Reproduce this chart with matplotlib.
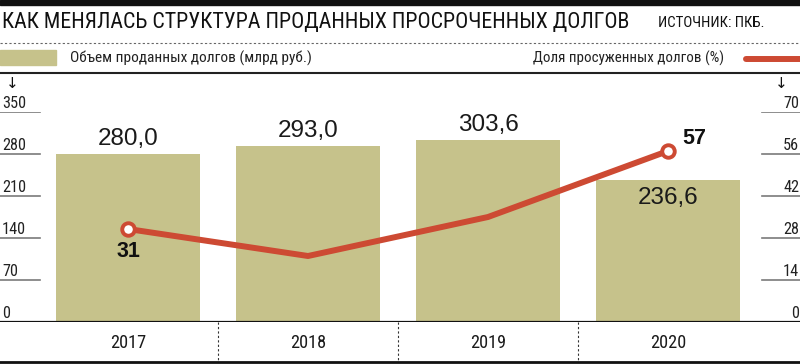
import matplotlib
matplotlib.use("Agg")
import matplotlib.pyplot as plt
import matplotlib.transforms as mtransforms
from matplotlib import font_manager
from matplotlib.ft2font import FT2Font

# Data
years = ["2017", "2018", "2019", "2020"]
sold_volume = [280.0, 293.0, 303.6, 236.6]      # млрд руб.
court_share = [31, 22, 35, 57]                  # %
left_ticks = [0, 70, 140, 210, 280, 350]
right_ticks = [0, 14, 28, 42, 56, 70]

title = "КАК МЕНЯЛАСЬ СТРУКТУРА ПРОДАННЫХ ПРОСРОЧЕННЫХ ДОЛГОВ"
source = "ИСТОЧНИК: ПКБ."
bar_label = "Объем проданных долгов (млрд руб.)"
line_label = "Доля просуженных долгов (%)"

OLIVE = "#c6c28b"
RED = "#cd4a33"
GRID = "#7a7a7a"


# pick a condensed face that has Cyrillic letters
def has_cyrillic(name):
    for f in font_manager.fontManager.ttflist:
        if f.name == name and f.style == "normal":
            try:
                return ord("Д") in FT2Font(f.fname).get_charmap()
            except Exception:
                return False
    return False


wanted = ["Roboto Condensed", "PT Sans Narrow", "Fira Sans Condensed",
          "Open Sans Condensed", "Noto Sans Condensed", "Liberation Sans"]
base_font = next((n for n in wanted if has_cyrillic(n)), "DejaVu Sans")
plt.rcParams['font.family'] = [base_font, 'DejaVu Sans']
NUM_FONT = ["Liberation Sans", "DejaVu Sans"]   # values are set in a regular-width face

W, H = 800, 364
fig = plt.figure(figsize=(W / 100, H / 100), dpi=100)
renderer = fig.canvas.get_renderer()


def fy(py):
    return 1 - py / H


def fx(px):
    return px / W


def fit(texts, target_px):
    # scale font so that the first text gets the reference width
    w = texts[0].get_window_extent(renderer).width
    size = texts[0].get_fontsize() * target_px / w
    for t in texts:
        t.set_fontsize(size)


# plot area: baseline at y=322 px, top (350) at y=112 px
ax = fig.add_axes([0, fy(322), 1, (322 - 112) / H])
ax.set_xlim(-128 / 180, (W - 128) / 180)
ax.set_ylim(0, 350)
ax.axis("off")
ax2 = ax.twinx()
ax2.set_ylim(0, 70)
ax2.axis("off")

x = list(range(len(years)))
ax.bar(x, sold_volume, width=0.8, color=OLIVE, zorder=1)

# tick lines and labels
tick_texts = []
for t in left_ticks[1:]:
    ax.axhline(t, xmin=0, xmax=40 / W, color=GRID, lw=1.2, zorder=0)
for t in reversed(left_ticks):
    tick_texts.append(ax.text(fx(2), t + 2, str(t), transform=ax.get_yaxis_transform(),
                              ha="left", va="bottom", fontsize=13, color="#222222"))
for t in right_ticks[1:]:
    ax2.axhline(t, xmin=762 / W, xmax=1, color=GRID, lw=1.2, zorder=0)
for t in right_ticks:
    tick_texts.append(ax2.text(fx(799), t + 0.4, str(t), transform=ax2.get_yaxis_transform(),
                               ha="right", va="bottom", fontsize=13, color="#222222"))
fit(tick_texts, 24)

# bar value labels
value_texts = []
for i, v in enumerate(sold_volume):
    lab = f"{v:.1f}".replace(".", ",")
    if i == 3:
        value_texts.append(ax.text(i, v - 12, lab, ha="center", va="top", family=NUM_FONT,
                                   fontsize=18, color="#1a1a1a"))
    else:
        value_texts.append(ax.text(i, v + 7, lab, ha="center", va="bottom", family=NUM_FONT,
                                   fontsize=18, color="#1a1a1a"))
fit(value_texts, 61)

# line
ax2.plot(x, court_share, color=RED, lw=4.3, solid_capstyle="round", zorder=3)
ax2.plot([x[0], x[-1]], [court_share[0], court_share[-1]], ls="none", marker="o",
         ms=9, mfc="white", mec=RED, mew=2.8, zorder=4)
t31 = ax2.text(x[0], court_share[0] - 4, str(court_share[0]), ha="center", va="top",
               family=NUM_FONT, fontsize=18, fontweight="bold", color="#111111")
t57 = ax2.text(x[-1] + 0.08, court_share[-1] + 0.8, str(court_share[-1]), ha="left",
               va="bottom", family=NUM_FONT, fontsize=18, fontweight="bold",
               color="#111111")
fit([t31, t57], 24)

# bottom axis area
ax.axhline(0, color="#111111", lw=1.6, zorder=5)
trans = mtransforms.blended_transform_factory(ax.transData, fig.transFigure)
year_texts = []
for i in range(len(years)):
    year_texts.append(ax.text(i, fy(343), years[i], transform=trans, ha="center",
                              va="center", fontsize=16, color="#1a1a1a"))
fit(year_texts, 36)
for i in range(len(years) - 1):
    ax.plot([i + 0.5, i + 0.5], [fy(322), fy(361)], transform=trans, clip_on=False,
            color="#333333", lw=0.8, ls=(0, (2, 2)))
fig.add_artist(plt.Line2D([0, 1], [fy(362), fy(362)], color="#111111", lw=2))

# header
fig.add_artist(plt.Rectangle((0, fy(5)), 1, 5 / H, color="#111111"))
t_title = fig.text(fx(2), fy(22), title, ha="left", va="center", fontsize=17.5,
                   color="#111111")
fit([t_title], 628)
t_src = fig.text(fx(658), fy(23), source, ha="left", va="center", fontsize=9.5,
                 color="#111111")
fit([t_src], 107)
fig.add_artist(plt.Line2D([0, 1], [fy(43), fy(43)], color="#666666", lw=0.8,
                          ls=(0, (2, 2))))
fig.add_artist(plt.Rectangle((0, fy(65)), 56 / W, 15 / H, color=OLIVE))
t_bar = fig.text(fx(70), fy(58), bar_label, ha="left", va="center", fontsize=10.5,
                 color="#222222")
fit([t_bar], 242)
t_line = fig.text(fx(724), fy(58), line_label, ha="right", va="center", fontsize=10.5,
                  color="#222222")
fit([t_line], 192)
fig.add_artist(plt.Line2D([fx(746), 1], [fy(58.5), fy(58.5)], color=RED, lw=4.3,
                          solid_capstyle="round"))
fig.add_artist(plt.Line2D([0, 1], [fy(73), fy(73)], color="#222222", lw=1.5))

# arrows
fig.text(fx(12), fy(83), "↓", ha="center", va="center", fontsize=11, color="#111111",
         family="DejaVu Sans")
fig.text(fx(781), fy(83), "↓", ha="center", va="center", fontsize=11, color="#111111",
         family="DejaVu Sans")

fig.savefig("out.png", dpi=100)
